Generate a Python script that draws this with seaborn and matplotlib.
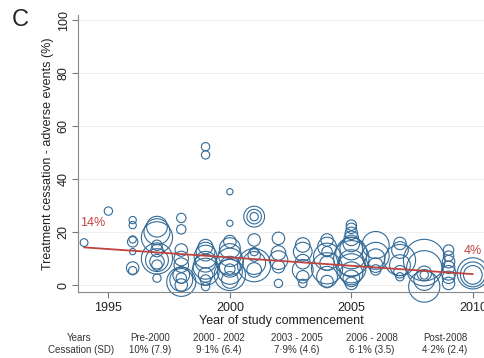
import pandas as pd
import seaborn as sns
import matplotlib.pyplot as plt

# one row per study: start year, cessation (%), relative bubble weight
study_year = [1994, 1995,
              1996, 1996, 1996, 1996, 1996, 1996, 1996,
              1997, 1997, 1997, 1997, 1997, 1997, 1997, 1997, 1997, 1997,
              1998, 1998, 1998, 1998, 1998, 1998, 1998, 1998, 1998, 1998,
              1999, 1999, 1999, 1999, 1999, 1999, 1999, 1999, 1999, 1999, 1999,
              2000, 2000, 2000, 2000, 2000, 2000, 2000, 2000, 2000, 2000, 2000,
              2001, 2001, 2001, 2001, 2001, 2001, 2001, 2001, 2001,
              2002, 2002, 2002, 2002, 2002,
              2003, 2003, 2003, 2003, 2003, 2003,
              2004, 2004, 2004, 2004, 2004, 2004, 2004, 2004,
              2005, 2005, 2005, 2005, 2005, 2005, 2005, 2005, 2005, 2005, 2005, 2005, 2005,
              2006, 2006, 2006, 2006, 2006,
              2007, 2007, 2007, 2007, 2007, 2007,
              2008, 2008, 2008, 2008, 2008, 2008,
              2009, 2009, 2009, 2009, 2009, 2009, 2009,
              2010, 2010, 2010]
cessation_pct = [16.0, 27.9,
                 24.5, 22.6, 17.2, 16.3, 12.6, 6.4, 5.4,
                 22.0, 20.1, 18.0, 15.0, 13.0, 10.0, 9.4, 8.8, 7.5, 2.6,
                 25.3, 21.0, 13.2, 10.0, 7.5, 3.8, 2.6, 1.9, 1.2, 0.0,
                 52.2, 49.1, 14.5, 12.6, 10.7, 8.8, 6.9, 5.0, 3.8, 1.9, -0.6,
                 35.2, 23.3, 16.4, 13.9, 11.3, 8.8, 6.9, 6.0, 5.0, 3.8, 1.9,
                 25.8, 25.8, 25.8, 17.0, 12.6, 11.3, 8.3, 7.5, 5.7,
                 17.6, 12.1, 9.4, 6.9, 0.6,
                 15.1, 12.6, 8.8, 5.7, 3.1, 0.6,
                 17.0, 14.5, 12.6, 10.7, 8.2, 6.3, 3.1, 1.3,
                 22.6, 21.4, 19.5, 17.6, 15.7, 13.8, 12.0, 10.1, 8.2, 6.3, 4.4, 2.5, 0.6,
                 15.1, 11.0, 10.1, 7.5, 5.7,
                 15.7, 13.2, 9.4, 7.5, 5.0, 3.1,
                 9.4, 6.3, 4.4, 3.8, 1.9, -0.6,
                 13.2, 10.9, 8.8, 6.7, 4.6, 2.9, 0.6,
                 4.4, 4.0, 3.8]
patients = [56, 64,
            49, 49, 49, 100, 36, 144, 64,
            400, 625, 900, 100, 144, 900, 484, 196, 100, 64,
            81, 81, 144, 196, 196, 256, 100, 484, 784, 144,
            64, 64, 196, 324, 484, 400, 576, 676, 196, 100, 64,
            36, 36, 144, 400, 484, 676, 400, 100, 576, 900, 256,
            400, 196, 64, 144, 64, 144, 484, 1024, 196,
            144, 196, 324, 144, 64,
            196, 324, 196, 400, 144, 64,
            144, 324, 100, 676, 196, 900, 400, 144,
            100, 100, 144, 196, 256, 484, 900, 1156, 676, 784, 484, 256, 144,
            676, 676, 324, 196, 100,
            144, 256, 900, 400, 144, 64,
            1600, 1156, 196, 64, 400, 900,
            100, 100, 144, 144, 196, 144, 144,
            900, 576, 324]

# fitted trend (end points)
trend_year = [1994, 2010]
trend_pct = [14.2, 4.1]

table_rows = ["Years", "Cessation (SD)"]
period_labels = ["Pre-2000", "2000 - 2002", "2003 - 2005", "2006 - 2008", "Post-2008"]
period_values = ["10% (7.9)", "9\u00b71% (6.4)", "7\u00b79% (4.6)", "6\u00b71% (3.5)", "4\u00b72% (2.4)"]

sns.set_style("white")
plt.rcParams["font.family"] = ["Liberation Sans", "DejaVu Sans"]

df = pd.DataFrame({"year": study_year, "pct": cessation_pct, "n": patients})
trend = pd.DataFrame({"year": trend_year, "pct": trend_pct})

blue = "#336b97"
red = "#c0433f"

fig = plt.figure(figsize=(4.85, 3.58), dpi=100)
ax = fig.add_axes([78 / 485, 66 / 358, 407 / 485, 277 / 358])

sns.scatterplot(data=df, x="year", y="pct", size="n", sizes=(0, 1600 * 0.56),
                size_norm=(0, 1600), legend=False, color=blue, facecolor="none",
                edgecolor=blue, linewidth=0.8, clip_on=False, ax=ax)
sns.lineplot(data=trend, x="year", y="pct", color=red, linewidth=1.3, ax=ax)

ax.text(1993.85, 23.5, "14%", color=red, fontsize=9, ha="left", va="center")
ax.text(2010.0, 12.7, "4%", color=red, fontsize=9, ha="center", va="center")

ax.set_xlim(1993.75, 2010.5)
ax.set_ylim(-2.64, 101.9)
ax.set_xticks([1995, 2000, 2005, 2010])
ax.set_yticks([0, 20, 40, 60, 80, 100])
ax.tick_params(axis="both", length=4, width=0.8, color="#777777", labelsize=9,
               labelcolor="#222222", bottom=True, left=True)
ax.tick_params(axis="y", pad=2)
ax.tick_params(axis="x", pad=3)
for lab in ax.get_yticklabels():
    lab.set_rotation(90)
    lab.set_va("center")

ax.yaxis.grid(True, color="#eeeeee", linewidth=0.8)
ax.set_axisbelow(True)
for side in ["top", "right"]:
    ax.spines[side].set_visible(False)
for side in ["left", "bottom"]:
    ax.spines[side].set_color("#888888")
    ax.spines[side].set_linewidth(0.8)

ax.set_xlabel("Year of study commencement", fontsize=9, color="#222222", labelpad=1)
ax.set_ylabel("Treatment cessation - adverse events (%)", fontsize=9, color="#222222", labelpad=3)

fig.text(12 / 485, 1 - 20 / 358, "C", fontsize=17, ha="left", va="center")

# summary table under the axis
col_x = [150, 219, 297, 372, 445]
fig.text(79 / 485, 1 - 338 / 358, table_rows[0], fontsize=7, color="#333333", ha="center", va="center")
fig.text(81 / 485, 1 - 350 / 358, table_rows[1], fontsize=7, color="#333333", ha="center", va="center")
for cx, lab, val in zip(col_x, period_labels, period_values):
    fig.text(cx / 485, 1 - 338 / 358, lab, fontsize=7, color="#333333", ha="center", va="center")
    fig.text(cx / 485, 1 - 350 / 358, val, fontsize=7, color="#333333", ha="center", va="center")

fig.savefig("out.png", dpi=100)
